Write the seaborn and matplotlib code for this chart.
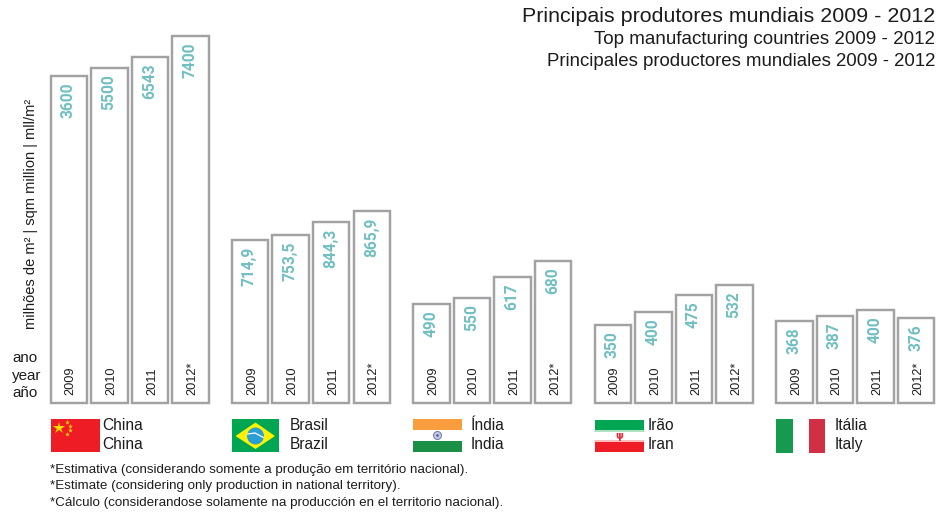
import numpy as np
import pandas as pd
import matplotlib
matplotlib.use("Agg")
import matplotlib.pyplot as plt
from matplotlib.patches import Rectangle, Polygon, Circle
import seaborn as sns

# ---- data -------------------------------------------------------------
years = ["2009", "2010", "2011", "2012*"]
countries = ["China", "Brasil", "India", "Iran", "Italia"]
china_labels = ["3600", "5500", "6543", "7400"]
brazil_labels = ["714,9", "753,5", "844,3", "865,9"]
india_labels = ["490", "550", "617", "680"]
iran_labels = ["350", "400", "475", "532"]
italy_labels = ["368", "387", "400", "376"]
# The source graphic is schematic: drawn bar heights are not proportional
# to the printed values, so they are read off the picture separately.
china_drawn = [327, 335, 346, 367]
brazil_drawn = [163, 168, 181, 192]
india_drawn = [99, 105, 126, 142]
iran_drawn = [78, 91, 108, 118]
italy_drawn = [82, 87, 93, 85]

names_pt = ["China", "Brasil", "Índia", "Irão", "Itália"]
names_en = ["China", "Brazil", "India", "Iran", "Italy"]

titles = ["Principais produtores mundiais 2009 - 2012",
          "Top manufacturing countries 2009 - 2012",
          "Principales productores mundiales 2009 - 2012"]
ylabel_text = "milhões de m² | sqm million | mll/m²"
year_words = ["ano", "year", "año"]
footnotes = ["*Estimativa (considerando somente a produção em território nacional).",
             "*Estimate (considering only production in national territory).",
             "*Cálculo (considerandose solamente na producción en el territorio nacional)."]

all_labels = [china_labels, brazil_labels, india_labels, iran_labels, italy_labels]
all_drawn = [china_drawn, brazil_drawn, india_drawn, iran_drawn, italy_drawn]

# ---- layout -----------------------------------------------------------
W, H, BASE = 938, 515, 403
GROUP_LEFT = [50.5, 231.7, 413, 594.5, 776]
STEP, BAR_W = 40.6, 36.5
NAME_X = [102, 290, 471, 648, 835]

rows = []
for g, c in enumerate(countries):
    for i, y in enumerate(years):
        rows.append({"country": c, "year": y, "label": all_labels[g][i],
                     "height": all_drawn[g][i],
                     "x": round(GROUP_LEFT[g] + BAR_W / 2 + i * STEP, 2)})
df = pd.DataFrame(rows)

sns.set_theme(style="white")
plt.rcParams["font.family"] = ["Liberation Sans", "DejaVu Sans"]

fig = plt.figure(figsize=(W / 100, H / 100), dpi=100, facecolor="white")
ax = fig.add_axes([0, 0, 1, 1])

sns.barplot(data=df, x="x", y="height", native_scale=True,
            width=BAR_W / (df["x"].diff().abs().min()),
            color="white", saturation=1, edgecolor="#a2a2a5", linewidth=1.75,
            errorbar=None, ax=ax)
ax.set_xlim(0, W)
ax.set_ylim(BASE - H, BASE)
ax.axis("off")

def py(p):
    return BASE - p

TEAL = "#70bfc0"
DARK = "#1c1c1c"
for _, r in df.iterrows():
    ax.text(r["x"] - 0.5, r["height"] - 6.5, r["label"], rotation=90, ha="center", va="top",
            color=TEAL, fontsize=11.2, fontweight="bold", family=["Roboto", "DejaVu Sans"])
    ax.text(r["x"] + 2, py(395), r["year"], rotation=90, ha="center", va="bottom",
            color=DARK, fontsize=9.2)

for t, yp, fs in zip(titles, [17, 39, 61], [15.42, 13.47, 13.43]):
    ax.text(935, py(yp), t, ha="right", va="center", color=DARK, fontsize=fs)

ax.text(31, py(329), ylabel_text, rotation=90, ha="center", va="bottom",
        color=DARK, fontsize=10.5)
for t, yp in zip(year_words, [358, 376, 393]):
    ax.text(12, py(yp), t, ha="left", va="center", color=DARK, fontsize=10.9)

for g in range(5):
    ax.text(NAME_X[g], py(425), names_pt[g], ha="left", va="center", color=DARK, fontsize=11.2)
    ax.text(NAME_X[g], py(444.5), names_en[g], ha="left", va="center", color=DARK, fontsize=11.2)

for t, yp in zip(footnotes, [470, 486, 503]):
    ax.text(50, py(yp), t, ha="left", va="center", color=DARK, fontsize=9.65)

# ---- flags ------------------------------------------------------------
def rect(x0, x1, p0, p1, c):
    ax.add_patch(Rectangle((x0, py(p1)), x1 - x0, p1 - p0, facecolor=c, edgecolor="none", zorder=3))

# China
rect(51, 100, 419, 452, "#ee1c25")
ax.plot([58.5], [py(427.5)], marker="*", ms=9, color="#ffde00", mew=0, zorder=4)
for sx, sy in [(66.5, 422), (70, 425.5), (70, 430), (66.5, 434)]:
    ax.plot([sx], [py(sy)], marker="*", ms=3.5, color="#ffde00", mew=0, zorder=4)

# Brazil
rect(232, 279, 419, 452, "#00a651")
ax.add_patch(Polygon([(235.5, py(436)), (255.5, py(422.5)), (275, py(436)), (255.5, py(449))],
                     facecolor="#fff200", edgecolor="none", zorder=4))
ax.add_patch(Circle((255.5, py(436)), 8.5, facecolor="#2a9fd6", edgecolor="none", zorder=5))
ax.plot([247.5, 255, 263.5], [py(434), py(433), py(437.5)], color="white", lw=0.9, zorder=6)

# India
rect(413, 462, 419, 430, "#f99d3e")
rect(413, 462, 441, 452, "#1b8f45")
ax.add_patch(Circle((437.5, py(435.5)), 4, facecolor="#c5c8e0", edgecolor="#5d6aa8", lw=0.6, zorder=4))
ax.add_patch(Circle((437.5, py(435.5)), 1.2, facecolor="#3d4a8f", edgecolor="none", zorder=5))

# Iran
rect(595, 644, 419.5, 430, "#00a651")
rect(595, 644, 441.5, 452, "#ee1c25")
ax.plot([595, 644], [py(431), py(431)], color="#9fdcb8", lw=1.2, zorder=3)
ax.plot([595, 644], [py(441), py(441)], color="#f7b0b0", lw=1.2, zorder=3)
ax.text(619.5, py(436), "ψ", ha="center", va="center", color="#e0303a", fontsize=7,
        fontweight="bold", family=["DejaVu Sans"], zorder=4)

# Italy
rect(776, 793, 419, 453, "#159a50")
rect(809, 825, 419, 453, "#d13044")

fig.savefig("out.png", dpi=100, facecolor="white")
